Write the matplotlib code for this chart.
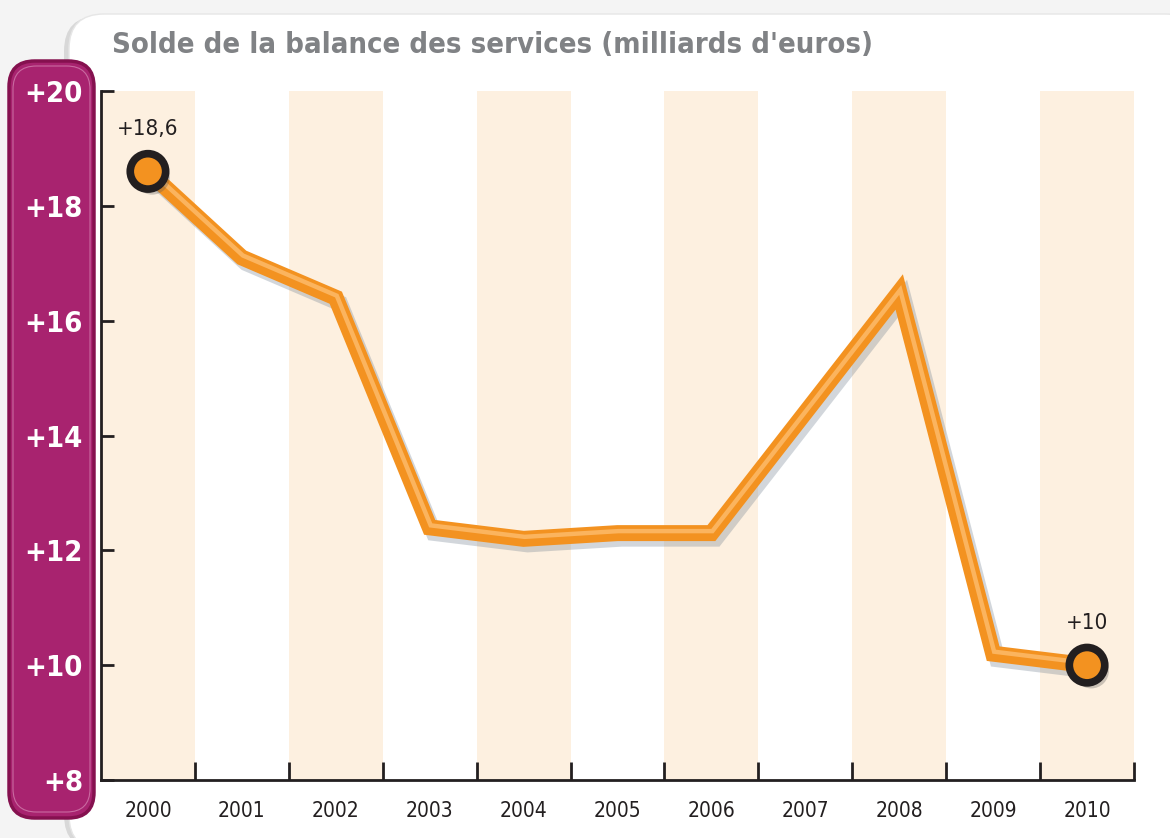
import matplotlib
matplotlib.use("Agg")
import matplotlib.pyplot as plt
import matplotlib.patheffects as pe
import matplotlib.transforms as mtransforms
from matplotlib.patches import FancyBboxPatch
from matplotlib import font_manager

years = [2000, 2001, 2002, 2003, 2004, 2005, 2006, 2007, 2008, 2009, 2010]
values = [18.6, 17.1, 16.4, 12.4, 12.2, 12.3, 12.3, 14.4, 16.5, 10.2, 10.0]
yticks = [8, 10, 12, 14, 16, 18, 20]
ytick_labels = ["+8", "+10", "+12", "+14", "+16", "+18", "+20"]
title = "Solde de la balance des services (milliards d'euros)"
annotations = {2000: "+18,6", 2010: "+10"}

names = {f.name for f in font_manager.fontManager.ttflist}
if "Liberation Sans Narrow" in names:
    FONT = ["Liberation Sans Narrow", "DejaVu Sans"]
    STRETCH = "normal"
else:
    FONT = ["DejaVu Sans"]
    STRETCH = "condensed"
plt.rcParams['font.family'] = FONT
plt.rcParams['font.stretch'] = STRETCH

W, H = 1170, 838
fig = plt.figure(figsize=(W / 100, H / 100), dpi=100)
fig.patch.set_facecolor("#f4f4f4")

def fx(px):
    return px / W

def fy(py):
    return 1 - py / H

# white panel with shadow
shadow = FancyBboxPatch((fx(64), fy(850)), fx(1200) - fx(64), fy(16) - fy(850),
                        boxstyle="round,pad=0,rounding_size=0.03",
                        transform=fig.transFigure, facecolor="#d8d8d8",
                        edgecolor="none", zorder=-2, mutation_aspect=W / H)
fig.patches.append(shadow)
panel = FancyBboxPatch((fx(69), fy(850)), fx(1200) - fx(69), fy(14) - fy(850),
                       boxstyle="round,pad=0,rounding_size=0.03",
                       transform=fig.transFigure, facecolor="white",
                       edgecolor="#e6e6e6", linewidth=1, zorder=-1.5,
                       mutation_aspect=W / H)
fig.patches.append(panel)

# magenta box
mag = FancyBboxPatch((fx(9), fy(818)), fx(94) - fx(9), fy(61) - fy(818),
                     boxstyle="round,pad=0,rounding_size=0.022",
                     transform=fig.transFigure, facecolor="#A8236F",
                     edgecolor="#85114f", linewidth=2.5, zorder=-1,
                     mutation_aspect=W / H)
fig.patches.append(mag)
mag2 = FancyBboxPatch((fx(13), fy(812)), fx(90) - fx(13), fy(66) - fy(812),
                      boxstyle="round,pad=0,rounding_size=0.02",
                      transform=fig.transFigure, facecolor="none",
                      edgecolor="#c96aa0", linewidth=0.8, zorder=-0.9,
                      mutation_aspect=W / H)
fig.patches.append(mag2)

# axes
ax = fig.add_axes([fx(101), fy(780), fx(1134) - fx(101), fy(91) - fy(780)])
ax.set_zorder(2)
ax.set_facecolor("none")
ax.set_xlim(1999.5, 2010.5)
ax.set_ylim(8, 20)

for i, yr in enumerate(years):
    if i % 2 == 0:
        ax.axvspan(yr - 0.5, yr + 0.5, color="#FDF0E0", zorder=0, linewidth=0)

ax.plot(years, values, color="#F39220", linewidth=11.5, solid_joinstyle="miter",
        solid_capstyle="butt", zorder=3,
        path_effects=[pe.SimpleLineShadow(offset=(3, -4), shadow_color="#6a7a8a", alpha=0.3),
                      pe.Normal()])
ax.plot(years, values, color="#FBB45E", linewidth=3.2, solid_joinstyle="miter",
        zorder=4,
        transform=ax.transData + mtransforms.ScaledTranslation(1 / 100, 2 / 100, fig.dpi_scale_trans))

ends_x = [years[0], years[-1]]
ends_y = [values[0], values[-1]]
ax.plot(ends_x, ends_y, linestyle="none", marker="o", markersize=25.5,
        markerfacecolor="#F39220", markeredgecolor="#231F20", markeredgewidth=5.5,
        zorder=5,
        path_effects=[pe.SimplePatchShadow(offset=(3, -4), shadow_rgbFace="#555555", alpha=0.3),
                      pe.Normal()])

for yr, txt in annotations.items():
    v = values[years.index(yr)]
    ax.annotate(txt, (yr, v), xytext=(0, 23), textcoords="offset points",
                ha="center", va="bottom", fontsize=16, color="#231F20")

for s in ["top", "right"]:
    ax.spines[s].set_visible(False)
for s in ["left", "bottom"]:
    ax.spines[s].set_color("#231F20")
    ax.spines[s].set_linewidth(2)

ax.set_yticks(yticks)
ax.set_yticklabels(ytick_labels)
ax.tick_params(axis="y", direction="in", length=9, width=2, color="#231F20",
               labelsize=21, labelcolor="white", pad=13)
for lab in ax.get_yticklabels():
    lab.set_fontweight("bold")

# x ticks at year boundaries, labels at centres
ax.set_xticks([y + 0.5 for y in years])
ax.set_xticklabels([])
ax.tick_params(axis="x", direction="in", length=13, width=2, color="#231F20")
ax.set_xticks(years, minor=True)
ax.set_xticklabels([str(y) for y in years], minor=True)
ax.tick_params(axis="x", which="minor", length=0, labelsize=15, labelcolor="#231F20", pad=15)

fig.text(fx(112), fy(45), title, fontsize=21, fontweight="bold", color="#808285",
         ha="left", va="center")

fig.savefig("out.png", dpi=100, facecolor=fig.get_facecolor())
